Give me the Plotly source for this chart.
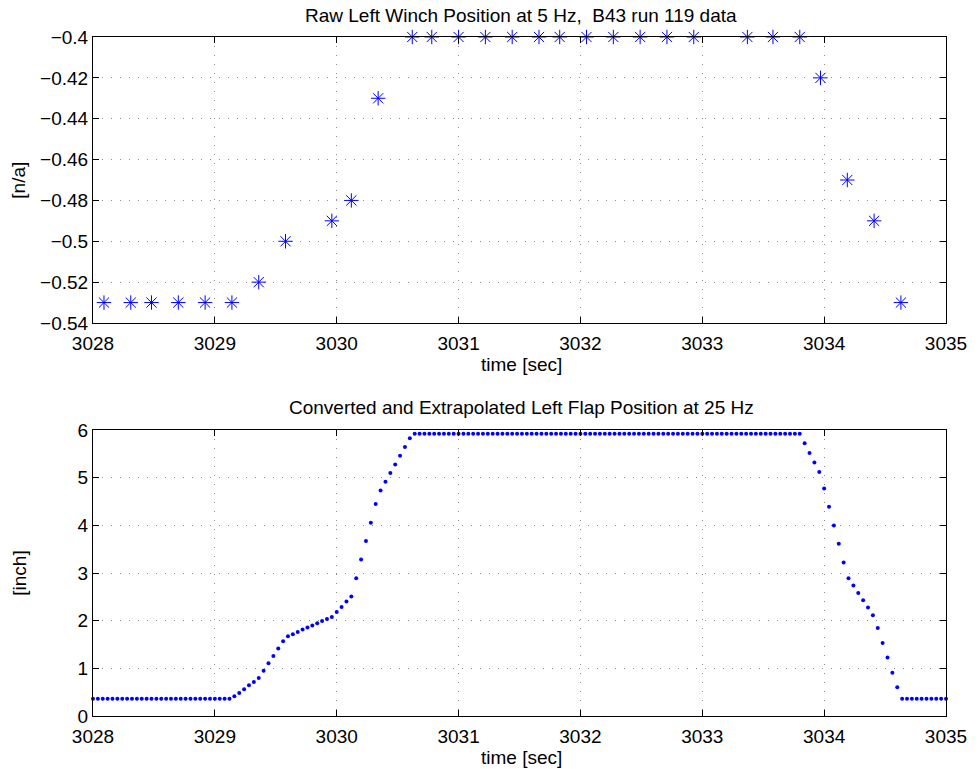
import numpy as np
import plotly.graph_objects as go
from plotly.subplots import make_subplots

# Raw winch samples (~5 Hz, irregular time stamps)
raw_time = [3028.09, 3028.31, 3028.48, 3028.70, 3028.92, 3029.14, 3029.36, 3029.58,
            3029.96, 3030.12, 3030.34, 3030.62, 3030.78, 3031.00, 3031.22, 3031.44,
            3031.66, 3031.83, 3032.05, 3032.27, 3032.49, 3032.71, 3032.93, 3033.37,
            3033.58, 3033.80, 3033.97, 3034.19, 3034.41, 3034.63]
raw_pos = [-0.53, -0.53, -0.53, -0.53, -0.53, -0.53, -0.52, -0.50,
           -0.49, -0.48, -0.43, -0.40, -0.40, -0.40, -0.40, -0.40,
           -0.40, -0.40, -0.40, -0.40, -0.40, -0.40, -0.40, -0.40,
           -0.40, -0.40, -0.42, -0.47, -0.49, -0.53]

# Converted flap position, resampled at 25 Hz starting at 3028.00 s
flap_t0 = 3028.0
flap_dt = 0.04
flap_pos = (
    [0.364] * 29
    + [0.413, 0.483, 0.560, 0.644, 0.714, 0.798, 0.952, 1.106, 1.260, 1.414,
       1.568, 1.673, 1.715, 1.764, 1.813, 1.855, 1.897, 1.946, 1.995, 2.037,
       2.079, 2.184, 2.289, 2.401, 2.506, 2.892, 3.284, 3.669, 4.054, 4.446,
       4.733, 4.915, 5.097, 5.279, 5.461, 5.643, 5.825]
    + [5.923] * 80
    + [5.720, 5.517, 5.321, 5.118, 4.775, 4.390, 3.998, 3.613, 3.221, 2.892,
       2.738, 2.583, 2.429, 2.275, 2.114, 1.848, 1.533, 1.225, 0.910, 0.602]
    + [0.364] * 10
)
flap_time = flap_t0 + flap_dt * np.arange(len(flap_pos))

x_ticks = [3028, 3029, 3030, 3031, 3032, 3033, 3034, 3035]
top_yticks = [-0.54, -0.52, -0.50, -0.48, -0.46, -0.44, -0.42, -0.40]
top_ylabels = ["\u22120.54", "\u22120.52", "\u22120.5", "\u22120.48", "\u22120.46",
               "\u22120.44", "\u22120.42", "\u22120.4"]
bot_yticks = [0, 1, 2, 3, 4, 5, 6]

FONT = "Liberation Sans, Arial, Helvetica, sans-serif"
FS = 19
BLUE = "#0000ff"

fig = make_subplots(rows=2, cols=1, vertical_spacing=0.1576)

fig.add_trace(go.Scatter(
    x=raw_time, y=raw_pos, mode="markers", cliponaxis=False,
    marker=dict(symbol="asterisk-open", size=12, color=BLUE,
                line=dict(color=BLUE, width=1)),
    showlegend=False), row=1, col=1)

fig.add_trace(go.Scatter(
    x=flap_time, y=flap_pos, mode="markers", cliponaxis=False,
    marker=dict(symbol="circle", size=4, color=BLUE, line=dict(width=0)),
    showlegend=False), row=2, col=1)

axis_common = dict(
    showline=True, linecolor="black", linewidth=1, mirror="allticks",
    ticks="inside", ticklen=6, tickcolor="black", tickwidth=1,
    showgrid=True, gridcolor="#8c8c8c", gridwidth=1, griddash="1px,8px",
    zeroline=False, tickfont=dict(family=FONT, size=FS, color="black"),
)

for r in (1, 2):
    fig.update_xaxes(range=[3028, 3035], tickvals=x_ticks, ticklabelstandoff=3,
                     ticktext=[str(v) for v in x_ticks], row=r, col=1, **axis_common)

fig.update_yaxes(range=[-0.54, -0.40], tickvals=top_yticks, ticktext=top_ylabels,
                 row=1, col=1, **axis_common)
fig.update_yaxes(range=[0, 6], tickvals=bot_yticks, row=2, col=1, **axis_common)

fig.update_layout(
    width=979, height=769,
    margin=dict(l=93, r=25, t=37, b=53),
    paper_bgcolor="white", plot_bgcolor="white",
    font=dict(family=FONT, size=FS, color="black"),
)

def label(text, x, y, angle=0):
    fig.add_annotation(text=text, x=x, y=y, xref="paper", yref="paper",
                       showarrow=False, textangle=angle,
                       font=dict(family=FONT, size=FS, color="black"),
                       xanchor="center", yanchor="middle")

label("Raw Left Winch Position at 5 Hz,  B43 run 119 data", 0.5023, 1.0324)
label("Converted and Extrapolated Left Flap Position at 25 Hz", 0.5023, 0.4544)
label("time [sec]", 0.5023, 0.5184)
label("time [sec]", 0.5023, -0.0604)
label("[n/a]", -0.0871, 0.7894, -90)
label("[inch]", -0.0871, 0.2106, -90)

fig.write_html("out.html")
